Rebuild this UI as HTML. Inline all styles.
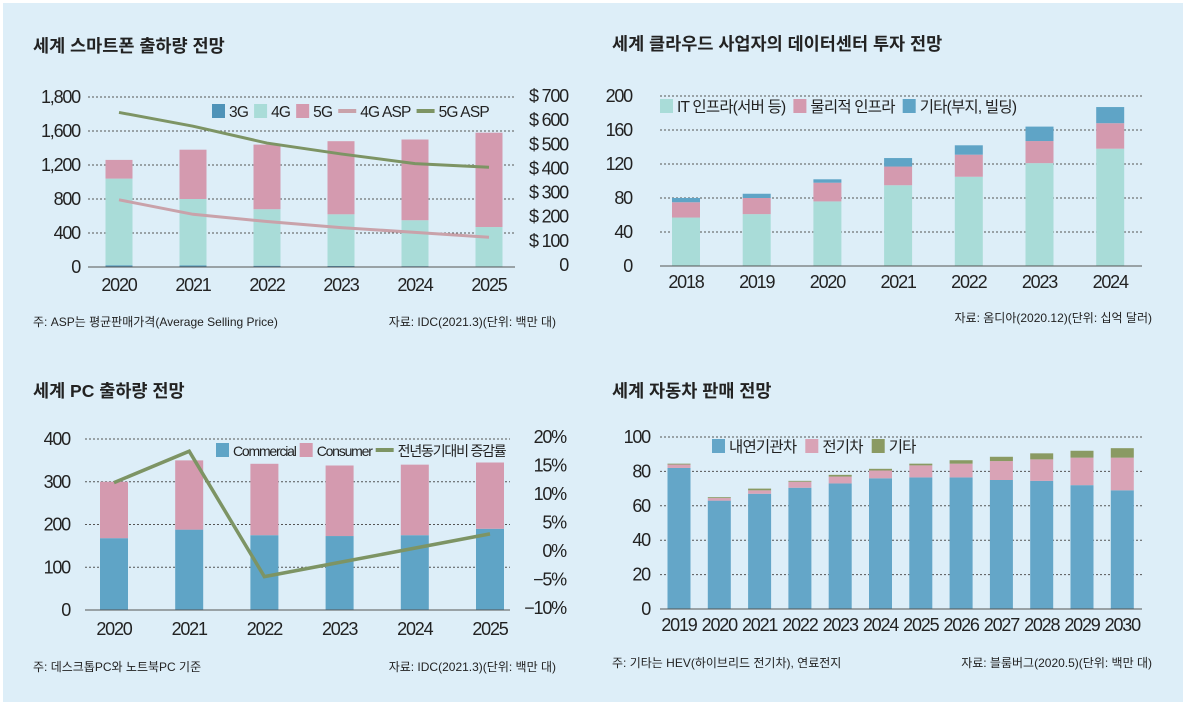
<!DOCTYPE html>
<html><head><meta charset="utf-8">
<style>
html,body{margin:0;padding:0;background:#fff;}
svg{display:block;}
text{font-family:"Liberation Sans","Noto Sans CJK KR",sans-serif;fill:#222;}
.tick{font-size:18px;letter-spacing:-1.2px;}
.ttl{font-size:17.5px;font-weight:bold;}
.note{font-size:12px;}
.leg{font-size:15.5px;letter-spacing:-0.8px;}
.legs{font-size:14px;letter-spacing:-1.2px;}
.grid{stroke:#555;stroke-width:1;stroke-dasharray:2,2;}
</style></head>
<body>
<svg id="svg" width="1186" height="705" viewBox="0 0 1186 705" xmlns="http://www.w3.org/2000/svg">
<rect x="0" y="0" width="1186" height="705" fill="#fff"/>
<rect x="3" y="3" width="1180" height="699" fill="#ddeef8"/>
<text class="ttl" x="33" y="52">세계 스마트폰 출하량 전망</text>
<text class="ttl" x="612" y="50">세계 클라우드 사업자의 데이터센터 투자 전망</text>
<text class="ttl" x="33" y="397">세계 PC 출하량 전망</text>
<text class="ttl" x="612" y="397">세계 자동차 판매 전망</text>
<text class="note" x="33" y="326">주: ASP는 평균판매가격(Average Selling Price)</text>
<text class="note" x="556" y="326" text-anchor="end">자료: IDC(2021.3)(단위: 백만 대)</text>
<text class="note" x="1152" y="322" text-anchor="end">자료: 옴디아(2020.12)(단위: 십억 달러)</text>
<text class="note" x="33" y="671">주: 데스크톱PC와 노트북PC 기준</text>
<text class="note" x="556" y="671" text-anchor="end">자료: IDC(2021.3)(단위: 백만 대)</text>
<text class="note" x="612" y="667">주: 기타는 HEV(하이브리드 전기차), 연료전지</text>
<text class="note" x="1152" y="667" text-anchor="end">자료: 블룸버그(2020.5)(단위: 백만 대)</text>
</svg>
<script>
// Chart 1: smartphones
const phoneYears=["2020","2021","2022","2023","2024","2025"];
const phone3G=[20,18,15,12,10,8];
const phone4G=[1020,782,665,608,540,462];
const phone5G=[220,580,760,860,950,1110];
const asp4G=[270,210,180,155,135,115];
const asp5G=[632,575,505,460,420,405];
const phoneTicks=[0,400,800,1200,1600,2000];
const phoneTickLabels=["0","400","800","1,200","1,600","1,800"];
const aspTicks=[0,100,200,300,400,500,600,700];
const aspTickLabels=["0","$ 100","$ 200","$ 300","$ 400","$ 500","$ 600","$ 700"];
// Chart 2: datacenter
const dcYears=["2018","2019","2020","2021","2022","2023","2024"];
const dcIT=[57,61,76,95,105,121,138];
const dcPhys=[18,19,22,22,26,26,30];
const dcOther=[5,5,4,10,11,17,19];
const dcTicks=[0,40,80,120,160,200];
// Chart 3: PC
const pcYears=["2020","2021","2022","2023","2024","2025"];
const pcCommercial=[168,188,175,173,175,190];
const pcConsumer=[132,162,167,165,165,155];
const pcGrowth=[12,17.5,-4.5,-2,0.5,3];
const pcTicks=[0,100,200,300,400];
const growthTicks=[-10,-5,0,5,10,15,20];
const growthTickLabels=["−10%","−5%","0%","5%","10%","15%","20%"];
// Chart 4: cars
const carYears=["2019","2020","2021","2022","2023","2024","2025","2026","2027","2028","2029","2030"];
const carICE=[82,63,67,70.5,73,76,76.5,76.5,75,74.5,72,69];
const carEV=[2,1.5,2,3.5,4,4.5,7,8,11,12.5,16,19];
const carOther=[0.5,0.5,1,0.5,1,1,1,2,2.5,3.5,4,5.5];
const carTicks=[0,20,40,60,80,100];

const NS="http://www.w3.org/2000/svg";
const svg=document.getElementById('svg');
function mk(tag,attrs,parent){const e=document.createElementNS(NS,tag);for(const k in attrs)e.setAttribute(k,attrs[k]);(parent||svg).appendChild(e);return e;}
function lin(d0,d1,r0,r1){return v=>r0+(v-d0)*(r1-r0)/(d1-d0);}

function gridAndAxis(ticks,labels,y,x0,x1,labelX,anchor,prefix){
  ticks.forEach((t,i)=>{
    if(x1>x0){
      const g=mk('line',{x1:x0,x2:x1,y1:y(t),y2:y(t),class:'grid'});
      
      
    }
    const tx=mk('text',{x:labelX,y:y(t)+6,'text-anchor':anchor,class:'tick'});
    tx.textContent=labels?labels[i]:String(t);
    
    
  });
}
function stacked(cats,seriesList,colors,x,y,bw,prefix,labelY){
  cats.forEach((c,i)=>{
    let base=0;
    seriesList.forEach((s,j)=>{
      const r=mk('rect',{x:x(i)-bw/2,y:y(base+s[i]),width:bw,height:y(base)-y(base+s[i]),fill:colors[j]});
      
      
      base+=s[i];
    });
    const t=mk('text',{x:x(i),y:labelY,'text-anchor':'middle',class:'tick'});
    t.textContent=c;
    
    
  });
}
function line(vals,x,y,color,w,name){
  const p=mk('polyline',{points:vals.map((v,i)=>x(i)+','+y(v)).join(' '),fill:'none',stroke:color,'stroke-width':w});
  
  
}
function legend(items,x0,yy,gap,cls){
  let x=x0;
  items.forEach(it=>{
    if(it.line){mk('line',{x1:x,x2:x+18,y1:yy,y2:yy,stroke:it.c,'stroke-width':4});x+=22;}
    else{mk('rect',{x:x,y:yy-7,width:13,height:14,fill:it.c});x+=17;}
    const t=mk('text',{x:x,y:yy+6,class:cls||'leg'});
    t.textContent=it.t;
    
    
    x+=t.getComputedTextLength()+gap;
  });
}
// Chart 1
{const y=lin(0,2000,267,97), y2=lin(0,700,265,96), x=i=>119+i*74;
 gridAndAxis(phoneTicks,phoneTickLabels,y,88,515,80,'end','phone-left');
 gridAndAxis(aspTicks,aspTickLabels,y2,0,0,568,'end','phone-right');
 stacked(phoneYears,[phone3G,phone4G,phone5G],['#4f93b8','#a9dcd8','#d49aaf'],x,y,27,'phone',291);
 mk('line',{x1:88,x2:515,y1:267,y2:267,stroke:'#555'});
 line(asp4G,x,y2,'#c9a2aa',3,'asp-4g-line');
 line(asp5G,x,y2,'#7d9464',3,'asp-5g-line');
 legend([{c:'#4f93b8',t:'3G'},{c:'#a9dcd8',t:'4G'},{c:'#d49aaf',t:'5G'},{c:'#c9a2aa',t:'4G ASP',line:1},{c:'#7d9464',t:'5G ASP',line:1}],212,111,6);}
// Chart 2
{const y=lin(0,200,266,96), x=i=>686+i*70.7;
 gridAndAxis(dcTicks,null,y,660,1142,632,'end','dc');
 stacked(dcYears,[dcIT,dcPhys,dcOther],['#a9dcd8','#d49aaf','#5fa4c6'],x,y,28,'dc',288);
 mk('line',{x1:660,x2:1142,y1:266,y2:266,stroke:'#555'});
 legend([{c:'#a9dcd8',t:'IT 인프라(서버 등)'},{c:'#d49aaf',t:'물리적 인프라'},{c:'#5fa4c6',t:'기타(부지, 빌딩)'}],660,106,8);}
// Chart 3
{const y=lin(0,400,610,439), y2=lin(-10,20,608,437), x=i=>114+i*75.2;
 gridAndAxis(pcTicks,null,y,85,510,70,'end','pc-left');
 gridAndAxis(growthTicks,growthTickLabels,y2,0,0,566,'end','pc-right');
 stacked(pcYears,[pcCommercial,pcConsumer],['#5fa4c6','#d49aaf'],x,y,28,'pc',635);
 mk('line',{x1:85,x2:510,y1:610,y2:610,stroke:'#555'});
 line(pcGrowth,x,y2,'#7d9464',3.5,'pc-growth-line');
 legend([{c:'#5fa4c6',t:'Commercial'},{c:'#d49aaf',t:'Consumer'},{c:'#7d9464',t:'전년동기대비 증감률',line:1}],216,450,4,'legs');}
// Chart 4
{const y=lin(0,100,609,437), x=i=>679+i*40.3;
 gridAndAxis(carTicks,null,y,660,1142,650,'end','car');
 stacked(carYears,[carICE,carEV,carOther],['#64a6c8','#d9a3b6','#8a9a63'],x,y,23,'car',631);
 mk('line',{x1:660,x2:1142,y1:609,y2:609,stroke:'#555'});
 legend([{c:'#64a6c8',t:'내연기관차'},{c:'#d9a3b6',t:'전기차'},{c:'#8a9a63',t:'기타'}],712,446,9);}
</script>
</body></html>
